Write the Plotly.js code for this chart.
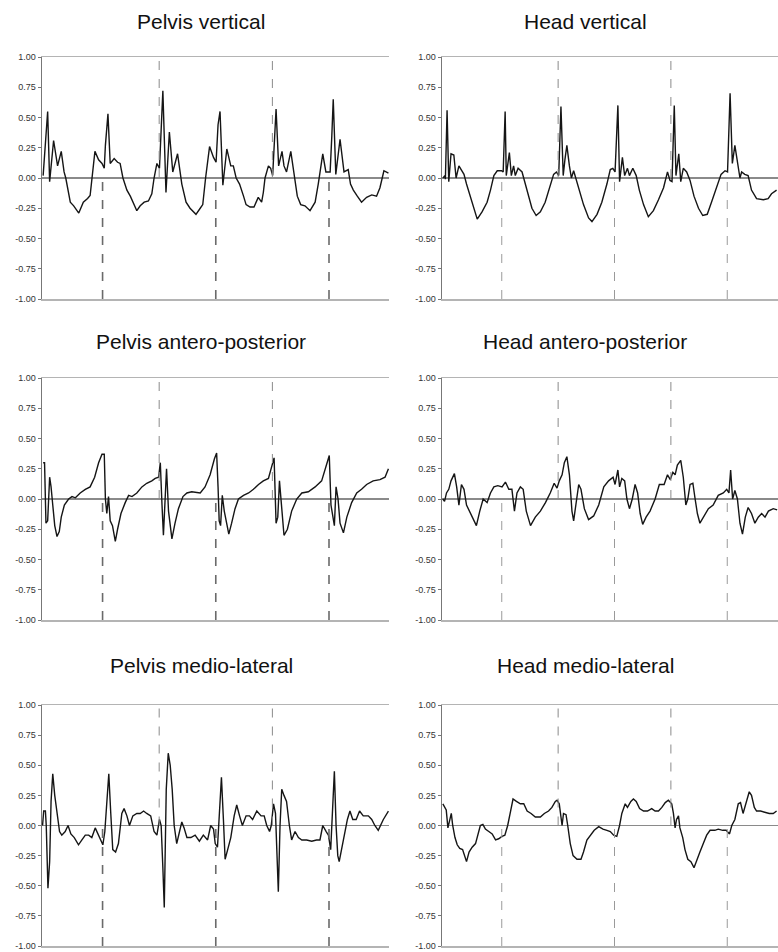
<!DOCTYPE html>
<html>
<head>
<meta charset="utf-8">
<script src="https://cdn.plot.ly/plotly-3.0.1.min.js"></script>
<style>html,body{margin:0;padding:0;background:#fff;}#chart{width:778px;height:952px;}</style>
</head>
<body>
<div id="chart"></div>
<script>
// ---- Data (time in stride units, acceleration normalised) ----
const titles = ["Pelvis vertical","Head vertical","Pelvis antero-posterior","Head antero-posterior","Pelvis medio-lateral","Head medio-lateral"];
const yTickVals = [-1,-0.75,-0.5,-0.25,0,0.25,0.5,0.75,1];
const yTickText = ["-1.00","-0.75","-0.50","-0.25","0.00","0.25","0.50","0.75","1.00"];
const upperEvents = [2,4];
const lowerEvents = [1,3,5];

const pelvisVertT = [-0.05,0.03,0.065,0.135,0.205,0.27,0.32,0.35,0.43,0.49,0.58,0.66,0.735,0.78,0.865,0.93,0.99,1.03,1.05,1.095,1.135,1.205,1.265,1.31,1.36,1.43,1.49,1.535,1.605,1.665,1.735,1.81,1.87,1.91,1.96,2.005,2.065,2.12,2.18,2.24,2.325,2.40,2.475,2.545,2.65,2.725,2.77,2.82,2.89,2.96,3.005,3.04,3.075,3.125,3.195,3.265,3.31,3.36,3.42,3.49,3.535,3.605,3.675,3.75,3.81,3.84,3.87,3.93,3.97,4.005,4.065,4.11,4.17,4.205,4.25,4.325,4.395,4.44,4.50,4.575,4.665,4.755,4.81,4.89,4.945,5.02,5.05,5.075,5.12,5.195,5.265,5.34,5.38,5.43,5.50,5.575,5.665,5.755,5.84,5.90,5.97,6.05];
const pelvisVertV = [0.02,0.55,-0.03,0.31,0.10,0.22,0.05,0.0,-0.20,-0.23,-0.29,-0.20,-0.17,-0.145,0.22,0.15,0.12,0.08,0.27,0.53,0.12,0.16,0.13,0.12,0.0,-0.10,-0.15,-0.20,-0.27,-0.23,-0.20,-0.19,-0.13,0.0,0.12,0.08,0.72,-0.12,0.38,0.05,0.20,-0.05,-0.20,-0.25,-0.30,-0.25,-0.22,0.0,0.26,0.17,0.13,0.44,0.55,-0.06,0.24,0.10,0.10,0.0,-0.05,-0.15,-0.22,-0.24,-0.24,-0.16,-0.20,-0.12,0.0,0.10,0.08,0.02,0.57,0.10,0.22,0.10,0.05,0.22,0.0,-0.15,-0.22,-0.23,-0.27,-0.20,-0.05,0.20,0.05,0.05,0.35,0.65,0.03,0.32,0.05,0.07,-0.05,-0.10,-0.15,-0.20,-0.16,-0.14,-0.15,-0.08,0.06,0.04];

const headVertT = [-0.04,-0.01,0.0,0.03,0.06,0.10,0.15,0.19,0.24,0.28,0.33,0.375,0.445,0.505,0.565,0.65,0.74,0.80,0.86,0.92,0.995,1.025,1.06,1.08,1.135,1.17,1.21,1.24,1.29,1.36,1.42,1.48,1.535,1.61,1.685,1.77,1.85,1.92,1.97,2.01,2.05,2.09,2.12,2.155,2.20,2.235,2.275,2.315,2.38,2.45,2.54,2.60,2.69,2.775,2.865,2.925,2.97,3.01,3.06,3.09,3.14,3.18,3.23,3.265,3.325,3.385,3.44,3.515,3.60,3.69,3.78,3.87,3.94,3.985,4.02,4.06,4.09,4.14,4.175,4.22,4.28,4.34,4.41,4.49,4.565,4.645,4.72,4.81,4.89,4.96,5.005,5.05,5.09,5.135,5.18,5.225,5.255,5.31,5.37,5.43,5.52,5.64,5.725,5.785,5.875];
const headVertV = [0.0,0.02,-0.01,0.56,-0.03,0.20,0.19,0.0,0.10,0.07,0.03,-0.05,-0.15,-0.25,-0.34,-0.28,-0.20,-0.10,0.02,0.06,0.06,0.05,0.55,0.02,0.21,0.02,0.10,0.02,0.08,0.05,-0.05,-0.15,-0.25,-0.31,-0.28,-0.20,-0.08,0.03,0.05,0.02,0.59,0.02,0.15,0.27,0.10,0.0,0.06,0.0,-0.10,-0.22,-0.33,-0.36,-0.30,-0.20,-0.05,0.07,0.08,0.05,0.60,-0.03,0.17,0.02,0.08,0.02,0.08,0.02,-0.10,-0.22,-0.32,-0.27,-0.18,-0.08,0.05,-0.02,-0.03,0.60,0.02,0.20,-0.03,0.08,0.05,-0.02,-0.15,-0.25,-0.31,-0.30,-0.20,-0.08,0.03,0.06,0.05,0.70,0.12,0.27,0.12,0.0,0.05,0.03,0.02,-0.10,-0.17,-0.18,-0.17,-0.13,-0.10];

const pelvisApT = [-0.05,-0.025,0.0,0.03,0.065,0.09,0.12,0.155,0.195,0.235,0.27,0.325,0.40,0.46,0.52,0.605,0.695,0.78,0.86,0.93,0.99,1.03,1.05,1.075,1.105,1.135,1.175,1.225,1.265,1.325,1.40,1.46,1.52,1.605,1.695,1.78,1.87,1.93,1.99,2.02,2.05,2.075,2.105,2.13,2.165,2.225,2.28,2.34,2.42,2.49,2.575,2.725,2.81,2.90,2.975,3.015,3.04,3.06,3.085,3.115,3.15,3.185,3.23,3.28,3.34,3.40,3.49,3.58,3.665,3.755,3.84,3.93,3.99,4.03,4.065,4.095,4.125,4.155,4.205,4.265,4.34,4.43,4.52,4.635,4.755,4.87,4.96,5.005,5.035,5.065,5.095,5.125,5.16,5.195,5.255,5.315,5.40,5.49,5.575,5.665,5.78,5.90,5.99,6.05];
const pelvisApV = [0.30,0.30,-0.20,-0.18,0.18,0.10,-0.05,-0.22,-0.31,-0.27,-0.15,-0.05,0.0,0.02,0.01,0.05,0.08,0.10,0.18,0.30,0.37,0.37,0.0,-0.12,0.02,-0.18,-0.22,-0.35,-0.25,-0.12,-0.03,0.03,0.02,0.05,0.10,0.13,0.15,0.17,0.18,0.30,-0.05,-0.30,0.0,0.25,-0.10,-0.33,-0.20,-0.08,0.02,0.05,0.06,0.05,0.10,0.20,0.33,0.38,0.10,-0.18,-0.22,0.03,-0.10,-0.20,-0.29,-0.20,-0.08,0.0,0.03,0.05,0.08,0.12,0.15,0.17,0.28,0.34,-0.20,-0.15,0.15,-0.05,-0.30,-0.25,-0.10,0.0,0.05,0.06,0.10,0.15,0.30,0.36,-0.05,-0.15,-0.22,0.10,0.0,-0.20,-0.28,-0.15,-0.03,0.05,0.08,0.12,0.15,0.16,0.18,0.25];

const headApT = [-0.045,-0.015,0.02,0.06,0.10,0.16,0.20,0.24,0.285,0.33,0.375,0.445,0.49,0.55,0.61,0.67,0.74,0.80,0.86,0.93,1.005,1.065,1.125,1.18,1.225,1.27,1.33,1.38,1.435,1.51,1.595,1.685,1.775,1.86,1.93,1.98,2.02,2.07,2.11,2.155,2.20,2.245,2.275,2.315,2.365,2.405,2.465,2.54,2.63,2.72,2.81,2.895,2.975,3.01,3.06,3.09,3.13,3.18,3.22,3.265,3.315,3.365,3.41,3.455,3.50,3.56,3.63,3.72,3.795,3.88,3.94,3.99,4.035,4.075,4.115,4.175,4.22,4.265,4.30,4.34,4.39,4.43,4.47,4.515,4.575,4.665,4.75,4.84,4.93,4.99,5.03,5.06,5.095,5.135,5.18,5.225,5.27,5.32,5.37,5.43,5.49,5.55,5.61,5.67,5.73,5.815,5.885];
const headApV = [0.0,-0.02,0.05,0.08,0.15,0.21,0.10,-0.05,0.12,0.08,-0.05,-0.12,-0.17,-0.22,-0.10,0.0,-0.03,0.05,0.10,0.11,0.10,0.14,0.08,0.08,-0.10,0.05,0.10,0.08,-0.10,-0.22,-0.15,-0.10,-0.03,0.05,0.13,0.09,0.15,0.20,0.30,0.35,0.20,-0.10,-0.18,-0.05,0.12,0.08,-0.08,-0.17,-0.14,-0.05,0.10,0.15,0.18,0.12,0.24,0.10,0.17,0.15,0.0,-0.08,0.0,0.12,0.05,-0.12,-0.21,-0.15,-0.10,0.0,0.12,0.12,0.20,0.16,0.22,0.20,0.28,0.32,0.18,-0.05,0.0,0.12,0.13,0.0,-0.12,-0.20,-0.15,-0.08,-0.05,0.03,0.05,0.08,0.05,0.24,0.0,0.07,0.0,-0.20,-0.29,-0.15,-0.07,-0.12,-0.20,-0.15,-0.12,-0.15,-0.10,-0.08,-0.09];

const pelvisMlT = [-0.06,-0.04,-0.01,0.005,0.035,0.065,0.09,0.12,0.155,0.195,0.24,0.28,0.34,0.39,0.44,0.50,0.575,0.635,0.695,0.755,0.81,0.87,0.93,0.97,1.005,1.04,1.075,1.11,1.145,1.18,1.23,1.28,1.34,1.38,1.43,1.475,1.535,1.605,1.665,1.725,1.78,1.85,1.91,1.96,2.005,2.035,2.065,2.09,2.125,2.16,2.195,2.23,2.265,2.31,2.36,2.40,2.44,2.49,2.56,2.635,2.71,2.78,2.855,2.91,2.96,2.99,3.03,3.065,3.10,3.135,3.165,3.21,3.265,3.325,3.37,3.42,3.47,3.535,3.595,3.65,3.725,3.80,3.855,3.90,3.95,3.98,4.02,4.055,4.075,4.105,4.135,4.165,4.205,4.25,4.30,4.34,4.40,4.46,4.52,4.605,4.695,4.78,4.84,4.89,4.95,4.99,5.03,5.06,5.095,5.125,5.155,5.18,5.22,5.28,5.325,5.37,5.42,5.48,5.54,5.605,5.695,5.755,5.81,5.87,5.96,6.05];
const pelvisMlV = [0.0,0.12,0.12,0.0,-0.52,-0.30,0.20,0.43,0.25,0.12,-0.05,-0.08,-0.05,0.0,-0.07,-0.10,-0.16,-0.12,-0.08,-0.08,-0.10,-0.02,-0.08,-0.12,-0.16,-0.05,0.20,0.43,0.10,-0.20,-0.22,-0.15,0.10,0.14,0.08,0.0,0.08,0.10,0.10,0.12,0.10,0.08,-0.05,-0.08,0.05,0.0,-0.35,-0.68,0.30,0.60,0.50,0.30,0.0,-0.15,-0.05,0.03,-0.02,-0.10,-0.10,-0.08,-0.13,-0.08,-0.12,0.0,-0.03,-0.15,-0.18,0.10,0.40,0.05,-0.28,-0.20,-0.10,0.08,0.17,0.08,0.0,0.08,0.08,0.05,0.12,0.08,0.08,0.0,-0.05,0.0,0.18,0.10,-0.20,-0.55,0.0,0.30,0.25,0.20,0.0,-0.12,-0.05,-0.10,-0.12,-0.12,-0.13,-0.12,-0.12,0.0,-0.05,-0.08,-0.20,0.05,0.45,0.0,-0.25,-0.30,-0.20,-0.08,0.05,0.12,0.05,0.05,0.12,0.08,0.08,0.05,0.0,-0.04,0.05,0.12];

const headMlT = [-0.045,-0.015,0.015,0.045,0.075,0.105,0.13,0.17,0.21,0.255,0.305,0.34,0.375,0.42,0.475,0.535,0.575,0.62,0.665,0.71,0.77,0.83,0.89,0.945,1.005,1.055,1.105,1.155,1.20,1.26,1.33,1.39,1.45,1.52,1.595,1.685,1.755,1.83,1.89,1.95,1.98,2.02,2.05,2.07,2.095,2.14,2.17,2.215,2.265,2.335,2.405,2.45,2.51,2.57,2.64,2.72,2.795,2.865,2.925,2.985,3.04,3.09,3.13,3.19,3.23,3.29,3.335,3.385,3.445,3.515,3.585,3.66,3.72,3.78,3.84,3.90,3.955,4.015,4.045,4.075,4.10,4.135,4.16,4.21,4.25,4.30,4.355,4.41,4.455,4.515,4.575,4.635,4.695,4.78,4.84,4.92,4.98,5.04,5.08,5.135,5.195,5.235,5.28,5.33,5.39,5.43,5.48,5.52,5.59,5.665,5.745,5.815,5.875];
const headMlV = [0.18,0.15,0.13,-0.02,0.05,0.10,0.0,-0.10,-0.16,-0.19,-0.20,-0.25,-0.30,-0.22,-0.18,-0.15,-0.08,0.0,0.01,-0.03,-0.05,-0.07,-0.12,-0.11,-0.09,-0.08,0.0,0.12,0.22,0.20,0.18,0.18,0.12,0.10,0.07,0.07,0.10,0.12,0.15,0.20,0.21,0.18,0.05,0.0,0.10,0.09,0.0,-0.15,-0.25,-0.28,-0.28,-0.22,-0.12,-0.08,-0.04,-0.01,-0.03,-0.04,-0.05,-0.08,-0.09,0.0,0.10,0.18,0.15,0.20,0.22,0.20,0.14,0.12,0.12,0.14,0.12,0.12,0.15,0.19,0.21,0.18,0.10,-0.02,0.05,0.08,-0.02,-0.10,-0.20,-0.28,-0.30,-0.35,-0.30,-0.22,-0.15,-0.08,-0.04,-0.04,-0.03,-0.04,-0.04,-0.07,0.0,0.05,0.18,0.19,0.10,0.18,0.28,0.25,0.15,0.12,0.12,0.11,0.10,0.10,0.12];

const seriesT = [pelvisVertT, headVertT, pelvisApT, headApT, pelvisMlT, headMlT];
const seriesV = [pelvisVertV, headVertV, pelvisApV, headApV, pelvisMlV, headMlV];

// ---- Layout geometry (paper fractions) ----
const W = 778, H = 952;
const colDom = [[42/W, 389/W], [442/W, 1.0]];
const colRange = [[-0.07, 6.06], [-0.06, 5.9]];
const rowPx = [[57, 299], [378, 620], [705, 946]];
const titleYpx = [21, 341, 665];
const titleXpx = [201, 585];

const font = "Liberation Sans, Arial, Helvetica, sans-serif";
const data = [];
const layout = {
  width: W, height: H,
  margin: {l:0, r:0, t:0, b:0},
  paper_bgcolor: "#fff", plot_bgcolor: "#fff",
  showlegend: false,
  font: {family: font, color: "#222"},
  annotations: [], shapes: []
};

for (let i = 0; i < 6; i++) {
  const r = Math.floor(i/2), c = i % 2;
  const n = i + 1;
  const xa = n === 1 ? "xaxis" : "xaxis" + n;
  const ya = n === 1 ? "yaxis" : "yaxis" + n;
  const xr = n === 1 ? "x" : "x" + n;
  const yr = n === 1 ? "y" : "y" + n;
  layout[xa] = {
    domain: colDom[c], range: colRange[c], anchor: yr,
    showgrid: false, zeroline: false, showticklabels: false, ticks: "",
    showline: true, linecolor: "#b4b4b4", linewidth: 1.5, mirror: true
  };
  layout[ya] = {
    domain: [1 - rowPx[r][1]/H, 1 - rowPx[r][0]/H], range: [-1, 1], anchor: xr,
    showgrid: false, zeroline: true, zerolinecolor: "#8a8a8a", zerolinewidth: 1.2,
    tickvals: yTickVals, ticktext: yTickText, ticks: "outside", ticklen: 3,
    tickcolor: "#777", tickfont: {size: 9, color: "#333", family: font},
    showline: true, linecolor: "#777", linewidth: 1.5, mirror: false
  };
  // event markers
  upperEvents.forEach(e => layout.shapes.push({type:"line", xref:xr, yref:yr, x0:e, x1:e, y0:0, y1:1,
    line:{color:"#8a8a8a", width:1, dash:"dash"}}));
  lowerEvents.forEach(e => layout.shapes.push({type:"line", xref:xr, yref:yr, x0:e, x1:e, y0:-1, y1:0,
    line:{color: c === 0 ? "#6a6a6a" : "#9a9a9a", width: c === 0 ? 1.6 : 1, dash:"dash"}}));
  data.push({
    type: "scatter", mode: "lines", x: seriesT[i], y: seriesV[i], xaxis: xr, yaxis: yr,
    line: {color: "#151515", width: 1.4}, hoverinfo: "skip", cliponaxis: true
  });
  layout.annotations.push({
    text: titles[i], xref: "paper", yref: "paper",
    x: titleXpx[c]/W, y: 1 - titleYpx[r]/H, xanchor: "center", yanchor: "middle",
    showarrow: false, font: {size: 21, color: "#111", family: font}
  });
}

Plotly.newPlot("chart", data, layout, {staticPlot: true, displayModeBar: false});
</script>
</body>
</html>
